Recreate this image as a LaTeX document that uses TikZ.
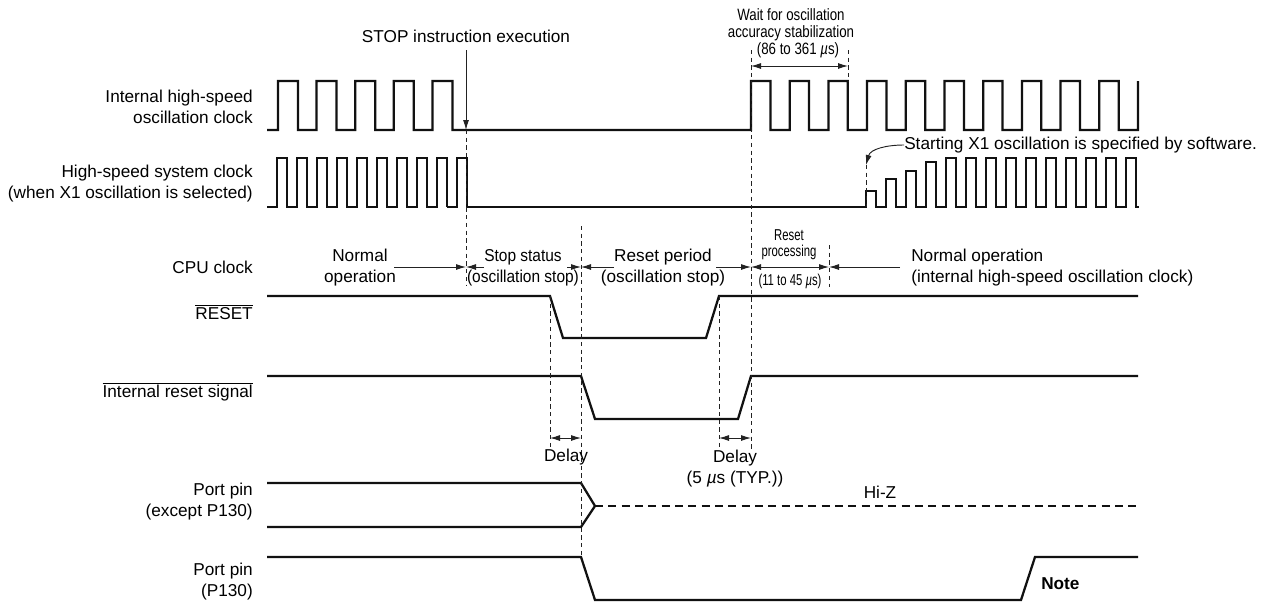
\documentclass[tikz,border=0pt]{standalone}
\usepackage{fontspec}
\setmainfont{Liberation Sans}
\newfontfamily\narrowa[FakeStretch=0.81]{Liberation Sans}
\newfontfamily\narrowb[FakeStretch=0.72]{Liberation Sans}
\newfontfamily\narrowc[FakeStretch=0.9]{Liberation Sans}
\usepackage{xcolor}
\usepackage{tikz}
\usetikzlibrary{calc,arrows.meta,positioning}
\definecolor{inkc}{HTML}{111111}
\definecolor{guidec}{HTML}{222222}
\tikzset{
  wave/.style={line width=1.7pt,inkc,line join=miter},
  hiz/.style={line width=1.7pt,inkc,dash pattern=on 6pt off 4pt},
  guide/.style={line width=0.6pt,guidec,dash pattern=on 3.2pt off 2.6pt},
  ar/.style={-{Latex[length=7.5pt,width=4.5pt]},line width=0.7pt,guidec},
  arb/.style={{Latex[length=7.5pt,width=4.5pt]}-{Latex[length=7.5pt,width=4.5pt]},line width=0.7pt,guidec},
  lab/.style={font=\fontsize{12.9}{15.75}\selectfont,align=right,anchor=east,inner sep=0pt},
  txt/.style={font=\fontsize{12.9}{15.75}\selectfont,align=center,inner sep=0pt},
  txtn/.style={font=\narrowc\fontsize{12.9}{15.75}\selectfont,align=center,inner sep=0pt},
  txtl/.style={font=\fontsize{12.9}{15.75}\selectfont,align=left,anchor=west,inner sep=0pt},
  small/.style={font=\narrowa\fontsize{12.3}{12.75}\selectfont,align=center,inner sep=0pt},
  tiny/.style={font=\narrowb\fontsize{11.8}{12}\selectfont,align=center,inner sep=0pt}
}
\newcommand{\musec}{{\itshape µ}s}
\begin{document}
\begin{tikzpicture}[x=0.75pt,y=-0.75pt]
\useasboundingbox (0,0) rectangle (1268,604);
% row labels
\node[lab] (lbint) at (253,107) {Internal high-speed\\oscillation clock};
\node[lab] (lbsys) at (253,183.5) {High-speed system clock\\(when X1 oscillation is selected)};
\node[lab] (lbcpu) at (253,267) {CPU clock};
\node[lab] (lbrst) at (253,312) {$\overline{\mbox{RESET}}$};
\node[lab] (lbirs) at (253,392) {$\overline{\mbox{Internal reset signal}}$};
\node[lab] (lbprt) at (253,501.5) {Port pin\\(except P130)};
\node[lab] (lbp13) at (253,582) {Port pin\\(P130)};
% internal high-speed clock
\draw[wave] (267,130) foreach \k in {0,...,4} {
  -- ({278+38.6*\k},130) -- ({278+38.6*\k},81) -- ({298+38.6*\k},81) -- ({298+38.6*\k},130)}
  -- (751,130)
  foreach \k in {0,...,9} {
  -- ({751+38.7*\k},81) -- ({770.4+38.7*\k},81) -- ({770.4+38.7*\k},130) -- ({789.7+38.7*\k},130)}
  -- (1138,81);
% high-speed system clock
\draw[wave] (267,207) foreach \k in {0,...,8} {
  -- ({277+20*\k},207) -- ({277+20*\k},158) -- ({287+20*\k},158) -- ({287+20*\k},207)};
\draw[wave] (447,207) -- (457,207) -- (457,158) -- (467,158) -- (467,207) -- (866,207)
  foreach \k/\t in {0/191,1/179,2/171,3/162,4/158,5/158,6/158,7/158,8/158,9/158,10/158,11/158,12/158} {
  -- ({866+20*\k},\t) -- ({876+20*\k},\t) -- ({876+20*\k},207) -- ({886+20*\k},207)}
  -- (1126,207) -- (1126,158) -- (1136,158) -- (1136,207) -- (1139,207);
% reset
\draw[wave] (267,296) -- (550,296) -- (563,338) -- (706,338) -- (719,296) -- (1138,296);
\draw[wave] (267,376) -- (581,376) -- (595,419) -- (738,419) -- (751,376) -- (1138,376);
% ports
\draw[wave] (267,483) -- (581,483) -- (595,506) -- (581,527) -- (267,527);
\draw[hiz] (595,506) -- (1138,506);
\draw[wave] (267,557) -- (581,557) -- (595,600) -- (1021,600) -- (1035,557) -- (1138,557);
% guide lines
\draw[guide] (466,130) -- (466,285);
\draw[guide] (581,226) -- (581,557);
\draw[guide] (751,50) -- (751,450);
\draw[guide] (848,50) -- (848,81);
\draw[guide] (829,245) -- (829,287);
\draw[guide] (550,296) -- (550,450);
\draw[guide] (719,296) -- (719,450);
\draw[guide] (866,165) -- (866,207);
% marks
\coordinate (stopa) at (466,50);
\coordinate (stopb) at (466,130);
\draw[ar] (stopa) -- (stopb);
\node[txt] (lbstop) at (466,36) {STOP instruction execution};
\node[small] (lbwait) at (791,25) {Wait for oscillation\\accuracy stabilization};
\node[small] (lbwtm) at (798,50) {(86 to 361 \musec)};
\coordinate (waita) at (751,66);
\coordinate (waitb) at (848,66);
\draw[arb] (waita) -- (waitb);
\node[txtl] (lbstart) at (904,145) {Starting X1 oscillation is specified by software.};
\coordinate (starta) at (866,165);
\draw[ar] (lbstart.west) to[out=180,in=75] (starta);
% cpu clock row
\node[txt] (lbnorm) at (360,267.5) {Normal\\operation};
\node[txtn] (lbstst) at (523,267.5) {Stop status\\(oscillation stop)};
\node[txt] (lbrsp) at (663,267.5) {Reset period\\(oscillation stop)};
\node[tiny] (lbrpr) at (789,245) {Reset\\processing};
\node[tiny] (lbrtm) at (790,281) {(11 to 45 \musec)};
\node[txtl] (lbnop) at (911,267.5) {Normal operation\\(internal high-speed oscillation clock)};
\coordinate (ta) at (466,267);
\coordinate (tb) at (581,267);
\coordinate (tc) at (751,267);
\coordinate (td) at (829,267);
\coordinate (na) at (394,267);
\coordinate (nb) at (484,267);
\coordinate (nc) at (567,267);
\coordinate (nd) at (614,267);
\coordinate (ne) at (716,267);
\coordinate (nf) at (900,267);
\draw[ar] (na) -- (ta);
\draw[ar] (nb) -- (ta);
\draw[ar] (nc) -- (tb);
\draw[ar] (nd) -- (tb);
\draw[ar] (ne) -- (tc);
\draw[arb] (tc) -- (td);
\draw[ar] (nf) -- (td);
% delays
\coordinate (dla) at (550,438);
\coordinate (dlb) at (581,438);
\coordinate (dlc) at (719,438);
\coordinate (dld) at (751,438);
\draw[arb] (dla) -- (dlb);
\draw[arb] (dlc) -- (dld);
\node[txt] (lbdl) at (566,457) {Delay};
\node[txt] (lbdm) at (735,469) {Delay\\(5 \musec\ (TYP.))};
\node[txt] (lbhz) at (880,492) {Hi-Z};
\node[txtl,font=\bfseries\fontsize{12.9}{15}\selectfont] (lbnt) at (1041,584) {Note};
\end{tikzpicture}
\end{document}
